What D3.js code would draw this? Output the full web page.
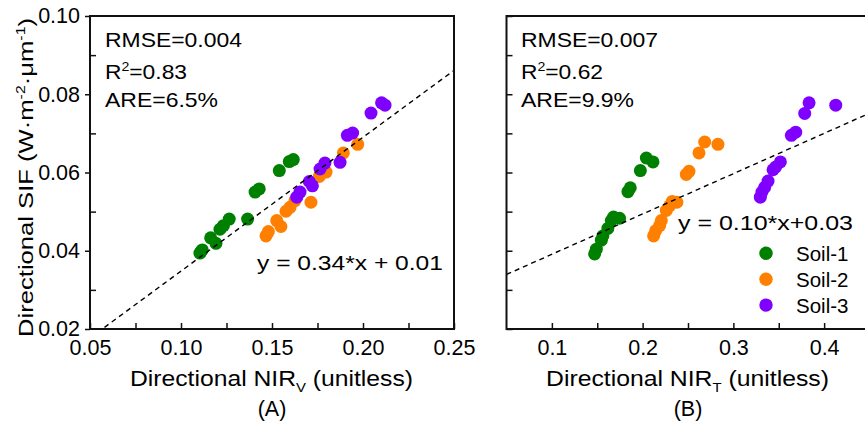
<!DOCTYPE html>
<html>
<head>
<meta charset="utf-8">
<script src="https://cdn.jsdelivr.net/npm/d3@7"></script>
<style>
  body { margin: 0; background: #fff; }
  text { font-family: "Liberation Sans", Arial, sans-serif; fill: #000; }
</style>
</head>
<body>
<div id="chart"></div>
<script>
// soil classes
const soilNames = ["Soil-1", "Soil-2", "Soil-3"];
const soilColors = ["#008000", "#ff8000", "#8000ff"];

// panel A : [directional NIRv, directional SIF]
const soil1A = [[0.1104,0.0394],[0.1117,0.0402],[0.1110,0.0398],[0.1163,0.0433],[0.1192,0.0419],[0.1214,0.0455],
  [0.1233,0.0464],[0.1265,0.0481],[0.1366,0.0481],[0.1407,0.0550],[0.1430,0.0558],[0.1540,0.0605],[0.1595,0.0628],[0.1617,0.0633]];
const soil2A = [[0.1467,0.0438],[0.1480,0.0449],[0.1526,0.0477],[0.1549,0.0462],[0.1577,0.0501],[0.1599,0.0511],
  [0.1626,0.0528],[0.1714,0.0524],[0.1760,0.0590],[0.1797,0.0601],[0.1892,0.0650],[0.1971,0.0672]];
const soil3A = [[0.1636,0.0537],[0.1654,0.0550],[0.1705,0.0577],[0.1722,0.0566],[0.1764,0.0609],[0.1791,0.0624],
  [0.1874,0.0626],[0.1914,0.0695],[0.1943,0.0701],[0.2044,0.0752],[0.2102,0.0778],[0.2121,0.0772]];

// panel B : [directional NIRT, directional SIF]
const soil1B = [[0.1471,0.0392],[0.1490,0.0404],[0.1545,0.0427],[0.1562,0.0438],[0.1617,0.0457],[0.1655,0.0477],
  [0.1680,0.0486],[0.1746,0.0483],[0.1838,0.0551],[0.1864,0.0561],[0.1975,0.0605],[0.2041,0.0637],[0.2114,0.0627]];
const soil2B = [[0.2121,0.0438],[0.2143,0.0451],[0.2187,0.0464],[0.2206,0.0477],[0.2261,0.0503],[0.2298,0.0515],
  [0.2327,0.0526],[0.2378,0.0524],[0.2481,0.0595],[0.2511,0.0603],[0.2621,0.0650],[0.2684,0.0678],[0.2830,0.0672]];
const soil3B = [[0.3297,0.0537],[0.3315,0.0550],[0.3345,0.0562],[0.3382,0.0578],[0.3437,0.0607],[0.3466,0.0614],
  [0.3518,0.0627],[0.3639,0.0695],[0.3687,0.0703],[0.3786,0.0751],[0.3834,0.0778],[0.4128,0.0772]];

// fitted lines
const fitA = { slope: 0.342, intercept: 0.0006, label: "y = 0.34*x + 0.01" };
const fitB = { slope: 0.103, intercept: 0.0288, label: "y = 0.10*x+0.03" };

// accuracy stats
const statsA = { rmse: "0.004", r2: "0.83", are: "6.5%" };
const statsB = { rmse: "0.007", r2: "0.62", are: "9.9%" };

// ticks
const yTicks = [0.02, 0.04, 0.06, 0.08, 0.10];
const yMinor = [0.03, 0.05, 0.07, 0.09];
const xTicksA = [0.05, 0.10, 0.15, 0.20, 0.25];
const xMinorA = [0.075, 0.125, 0.175, 0.225];
const xTicksB = [0.1, 0.2, 0.3, 0.4];
const xMinorB = [0.15, 0.25, 0.35];

const width = 865, height = 431;
const plotTop = 16, plotBottom = 329;

const svg = d3.select("#chart").append("svg")
  .attr("width", width).attr("height", height);

const y = d3.scaleLinear().domain([0.02, 0.10]).range([plotBottom, plotTop]);

// text with super/sub scripts: parts = [[str, "n"|"sup"|"sub"], ...]
function rich(sel, parts, fs) {
  let shift = 0;
  parts.forEach(([s, kind]) => {
    const target = kind === "sup" ? -8 : kind === "sub" ? 6 : 0;
    sel.append("tspan")
      .attr("dy", target - shift)
      .style("font-size", kind === "n" ? fs + "px" : Math.round(fs * 0.6) + "px")
      .text(s);
    shift = target;
  });
  return sel;
}

function panel(p) {
  const x = d3.scaleLinear().domain(p.xDomain).range(p.xRange);
  const g = svg.append("g");
  const clipId = "clip" + p.id;
  svg.append("clipPath").attr("id", clipId).append("rect")
    .attr("x", p.xRange[0]).attr("y", plotTop)
    .attr("width", p.xRange[1] - p.xRange[0]).attr("height", plotBottom - plotTop);

  // points
  p.series.forEach((data, i) => {
    g.append("g").selectAll("circle")
      .data(data).enter().append("circle")
      .attr("cx", d => x(d[0]))
      .attr("cy", d => y(d[1]))
      .attr("r", 6.5)
      .attr("fill", soilColors[i]);
  });

  // fitted line
  const fx = p.xDomain;
  g.append("line")
    .attr("clip-path", `url(#${clipId})`)
    .attr("x1", x(fx[0])).attr("y1", y(p.fit.slope * fx[0] + p.fit.intercept))
    .attr("x2", x(fx[1])).attr("y2", y(p.fit.slope * fx[1] + p.fit.intercept))
    .attr("stroke", "#000").attr("stroke-width", 1.4)
    .attr("stroke-dasharray", "5,4");

  // x axis (ticks point inward)
  g.append("g").attr("transform", `translate(0,${plotBottom})`)
    .call(d3.axisBottom(x).tickValues(p.xTicks).tickSizeInner(-6).tickSizeOuter(0)
      .tickPadding(11).tickFormat(p.xFormat));
  g.append("g").attr("transform", `translate(0,${plotBottom})`)
    .call(d3.axisBottom(x).tickValues(p.xMinor).tickSizeInner(-6).tickSizeOuter(0).tickFormat(""));

  // y axis
  const x0 = p.xRange[0];
  if (p.yLabels) {
    g.append("g").attr("transform", `translate(${x0},0)`)
      .call(d3.axisLeft(y).tickValues(yTicks).tickSize(5).tickPadding(5).tickFormat(d3.format(".2f")));
  } else {
    g.append("g").attr("transform", `translate(${x0},0)`)
      .call(d3.axisRight(y).tickValues(yTicks).tickSize(6).tickFormat(""));
  }
  g.append("g").attr("transform", `translate(${x0},0)`)
    .call(d3.axisRight(y).tickValues(yMinor).tickSize(6).tickFormat(""));

  g.selectAll(".domain").remove();
  g.selectAll(".tick line").attr("stroke", "#111").attr("stroke-width", 1.5);
  g.selectAll(".tick text").style("font-size", "21.5px")
    .style("font-family", '"Liberation Sans", Arial, sans-serif').attr("fill", "#000");

  // frame
  g.append("rect")
    .attr("x", p.xRange[0]).attr("y", plotTop)
    .attr("width", p.xRange[1] - p.xRange[0]).attr("height", plotBottom - plotTop)
    .attr("fill", "none").attr("stroke", "#111").attr("stroke-width", 2);

  // stats
  const sx = p.textX;
  g.append("text").attr("x", sx).attr("y", 47).style("font-size", "21px")
    .attr("textLength", 137).attr("lengthAdjust", "spacingAndGlyphs")
    .text("RMSE=" + p.stats.rmse);
  rich(g.append("text").attr("x", sx).attr("y", 79)
    .attr("textLength", 82).attr("lengthAdjust", "spacingAndGlyphs"),
    [["R", "n"], ["2", "sup"], ["=" + p.stats.r2, "n"]], 21);
  g.append("text").attr("x", sx).attr("y", 107).style("font-size", "21px")
    .attr("textLength", 113).attr("lengthAdjust", "spacingAndGlyphs")
    .text("ARE=" + p.stats.are);

  // equation
  g.append("text").attr("x", p.eq[0]).attr("y", p.eq[1]).style("font-size", "21px")
    .attr("textLength", p.eq[2]).attr("lengthAdjust", "spacingAndGlyphs")
    .text(p.fit.label);

  // x title + panel letter
  rich(g.append("text").attr("x", p.xTitleX).attr("y", 386)
    .attr("textLength", 283).attr("lengthAdjust", "spacingAndGlyphs"),
    [["Directional NIR", "n"], [p.sub, "sub"], [" (unitless)", "n"]], 21.5);
  g.append("text").attr("x", p.letterX).attr("y", 416).attr("text-anchor", "middle")
    .style("font-size", "21.5px").text(p.letter);
}

panel({
  id: "A", xDomain: [0.05, 0.25], xRange: [90, 454],
  xTicks: xTicksA, xMinor: xMinorA, xFormat: d3.format(".2f"),
  series: [soil1A, soil2A, soil3A], fit: fitA, stats: statsA,
  yLabels: true, textX: 105, eq: [257, 270, 186],
  xTitleX: 130, sub: "V", letter: "(A)", letterX: 272
});

panel({
  id: "B", xDomain: [0.05, 0.45], xRange: [506.5, 869.5],
  xTicks: xTicksB, xMinor: xMinorB, xFormat: d3.format(".1f"),
  series: [soil1B, soil2B, soil3B], fit: fitB, stats: statsB,
  yLabels: false, textX: 521, eq: [678, 230, 175],
  xTitleX: 546, sub: "T", letter: "(B)", letterX: 688
});

// y title
rich(svg.append("text")
  .attr("transform", "translate(33,177.5) rotate(-90)")
  .attr("text-anchor", "middle")
  .attr("textLength", 319).attr("lengthAdjust", "spacingAndGlyphs"),
  [["Directional SIF (W·m", "n"], ["-2", "sup"], ["·μm", "n"], ["-1", "sup"], [")", "n"]], 21);

// legend (panel B)
const legend = svg.append("g");
soilNames.forEach((name, i) => {
  const ly = 253.3 + i * 25.9;
  legend.append("circle").attr("cx", 766).attr("cy", ly).attr("r", 6.7).attr("fill", soilColors[i]);
  legend.append("text").attr("x", 796).attr("y", ly + 7.5).style("font-size", "20.5px").text(name);
});
</script>
</body>
</html>
